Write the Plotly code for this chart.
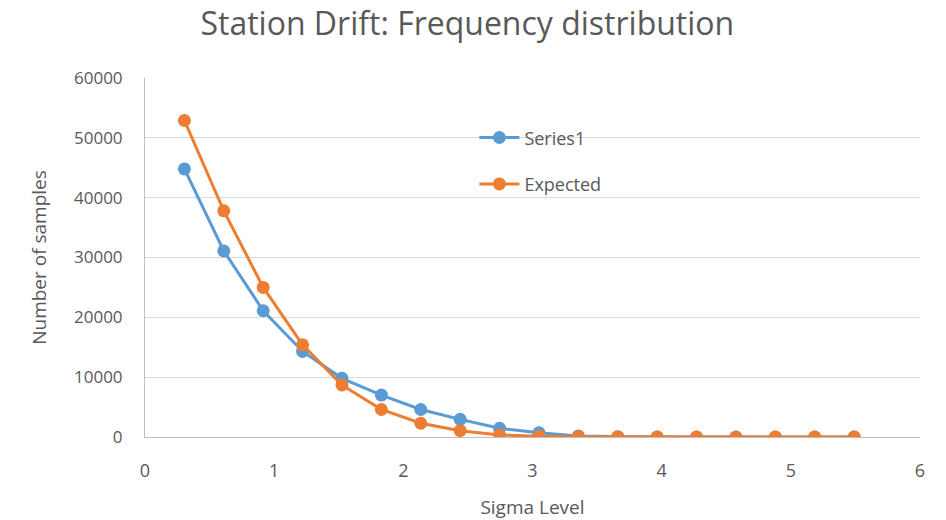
import plotly.graph_objects as go

sigma = [0.305, 0.61, 0.915, 1.22, 1.525, 1.83, 2.135, 2.44, 2.745, 3.05,
         3.355, 3.66, 3.965, 4.27, 4.575, 4.88, 5.185, 5.49]
series1 = [44800, 31100, 21100, 14300, 9800, 7000, 4600, 2950, 1450, 700,
           180, 60, 10, 0, 0, 0, 0, 0]
expected = [52900, 37800, 25000, 15400, 8700, 4600, 2300, 1050, 350, 120,
            40, 10, 0, 0, 0, 0, 0, 0]

FONT = "Open Sans"
GREY = "#595959"

fig = go.Figure()
fig.add_trace(go.Scatter(x=sigma, y=series1, name="Series1", mode="lines+markers",
                         line=dict(color="#5B9BD5", width=3),
                         marker=dict(color="#5B9BD5", size=13),
                         legendgroup="a"))
fig.add_trace(go.Scatter(x=sigma, y=expected, name="Expected", mode="lines+markers",
                         line=dict(color="#ED7D31", width=3),
                         marker=dict(color="#ED7D31", size=13),
                         legendgroup="b"))

fig.update_layout(
    width=946, height=520,
    margin=dict(l=145, r=26, t=78, b=83),
    paper_bgcolor="white", plot_bgcolor="white",
    font=dict(family=FONT, color=GREY),
    title=dict(text="Station Drift: Frequency distribution", x=0.494, xanchor="center",
               y=0.955, yanchor="middle", font=dict(size=32, color=GREY)),
    showlegend=True,
    legend=dict(x=0.425, y=0.885, xanchor="left", yanchor="top",
                bgcolor="rgba(0,0,0,0)", font=dict(size=18, color=GREY),
                traceorder="grouped", tracegroupgap=20, itemwidth=40),
    xaxis=dict(range=[0, 6], dtick=1, showgrid=False, zeroline=False,
               showline=True, linecolor="#BFBFBF", linewidth=1, automargin=False,
               tickfont=dict(size=18, color=GREY), ticklabelstandoff=17,
               title=dict(text="Sigma Level", font=dict(size=19, color=GREY), standoff=28)),
    yaxis=dict(range=[0, 60000], dtick=10000, showgrid=True, gridcolor="#D9D9D9",
               gridwidth=1, zeroline=False, showline=True, linecolor="#BFBFBF",
               linewidth=1, tickformat="d", automargin=False,
               tickfont=dict(size=17, color=GREY), ticklabelstandoff=18,
               title=dict(text="Number of samples", font=dict(size=19, color=GREY), standoff=22)),
)

fig.write_html("out.html")
